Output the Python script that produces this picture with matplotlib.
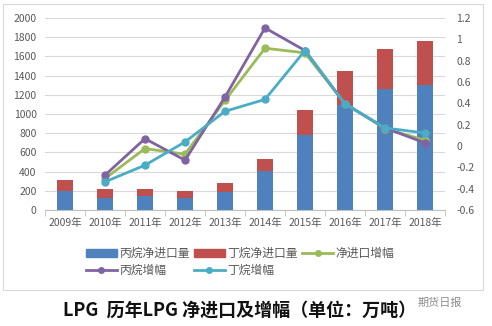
import matplotlib
matplotlib.use("Agg")
import matplotlib.pyplot as plt
import numpy as np
from matplotlib.patches import Rectangle
from matplotlib.lines import Line2D

plt.rcParams['font.family'] = ['Noto Sans CJK SC', 'DejaVu Sans']

years = ['2009年', '2010年', '2011年', '2012年', '2013年',
         '2014年', '2015年', '2016年', '2017年', '2018年']
propane = [195, 130, 145, 128, 190, 408, 785, 1097, 1263, 1298]
butane = [120, 90, 75, 70, 94, 128, 253, 346, 415, 467]

# growth rates start from 2010
growth_years = years[1:]
net_growth = [-0.305, -0.024, -0.077, 0.427, 0.917, 0.873, 0.396, 0.163, 0.054]
propane_growth = [-0.273, 0.069, -0.133, 0.459, 1.107, 0.895, 0.396, 0.169, 0.029]
butane_growth = [-0.336, -0.18, 0.038, 0.325, 0.437, 0.895, 0.396, 0.169, 0.122]

c_blue = '#4F81BD'
c_red = '#C0504D'
c_green = '#9BBB59'
c_purple = '#8064A2'
c_cyan = '#4BACC6'
txt = '#595959'

fig = plt.figure(figsize=(4.92, 3.26), dpi=100)
fig.patches.append(Rectangle((3 / 492, 1 - 290 / 326), 480 / 492, 286 / 326,
                             transform=fig.transFigure, fill=False,
                             edgecolor='#d9d9d9', lw=0.8))

ax = fig.add_axes([45 / 492, 1 - 210 / 326, 400 / 492, 192 / 326])
x = np.arange(len(years))
ax.bar(x, propane, width=0.4, color=c_blue, zorder=2)
ax.bar(x, butane, width=0.4, bottom=propane, color=c_red, zorder=2)
ax.set_ylim(0, 2000)
ax.set_yticks(range(0, 2001, 200))
ax.set_xlim(-0.5, len(years) - 0.5)
ax.set_xticks(x)
ax.set_xticklabels(years)
ax.set_xticks(np.arange(-0.5, len(years), 1), minor=True)
ax.tick_params(axis='x', which='major', length=0, pad=6, labelsize=7.5, colors=txt)
ax.tick_params(axis='x', which='minor', length=4, color='#bfbfbf')
ax.tick_params(axis='y', length=0, labelsize=7.5, colors=txt, pad=6)
ax.grid(axis='y', color='#d9d9d9', lw=0.8, zorder=0)
for s in ['top', 'right', 'left']:
    ax.spines[s].set_visible(False)
ax.spines['bottom'].set_color('#bfbfbf')

ax2 = ax.twinx()
gx = x[1:]
ax2.plot(gx, net_growth, color=c_green, lw=2, marker='o', ms=5, zorder=3)
ax2.plot(gx, propane_growth, color=c_purple, lw=2, marker='o', ms=5, zorder=3)
ax2.plot(gx, butane_growth, color=c_cyan, lw=2, marker='o', ms=5, zorder=3)
ax2.set_ylim(-0.6, 1.2)
ticks = np.round(np.arange(-0.6, 1.21, 0.2), 1)
ax2.set_yticks(ticks)
ax2.set_yticklabels([('%g' % t) for t in ticks])
ax2.tick_params(axis='y', length=0, labelsize=7.5, colors=txt, pad=8)
for s in ax2.spines.values():
    s.set_visible(False)

handles = [
    Rectangle((0, 0), 1, 1, color=c_blue),
    Line2D([], [], color=c_purple, lw=2, marker='o', ms=4),
    Rectangle((0, 0), 1, 1, color=c_red),
    Line2D([], [], color=c_cyan, lw=2, marker='o', ms=4),
    Line2D([], [], color=c_green, lw=2, marker='o', ms=4),
]
labels = ['丙烷净进口量', '丙烷增幅', '丁烷净进口量', '丁烷增幅', '净进口增幅']
fig.legend(handles, labels, ncol=3, loc='center', bbox_to_anchor=(240 / 492, 1 - 262 / 326),
           frameon=False, fontsize=8.5, labelcolor=txt, handlelength=2.6,
           handleheight=0.6, columnspacing=0.4, handletextpad=0.2, labelspacing=0.3)

fig.text(240 / 492, 1 - 310 / 326, 'LPG  历年LPG 净进口及增幅（单位：万吨）',
         ha='center', va='center', fontsize=13, fontweight='bold', color='#111111')
fig.text(440 / 492, 1 - 303 / 326, '期货日报', ha='center', va='center',
         fontsize=8, color='#8c8c8c')

fig.savefig('out.png', dpi=100)
